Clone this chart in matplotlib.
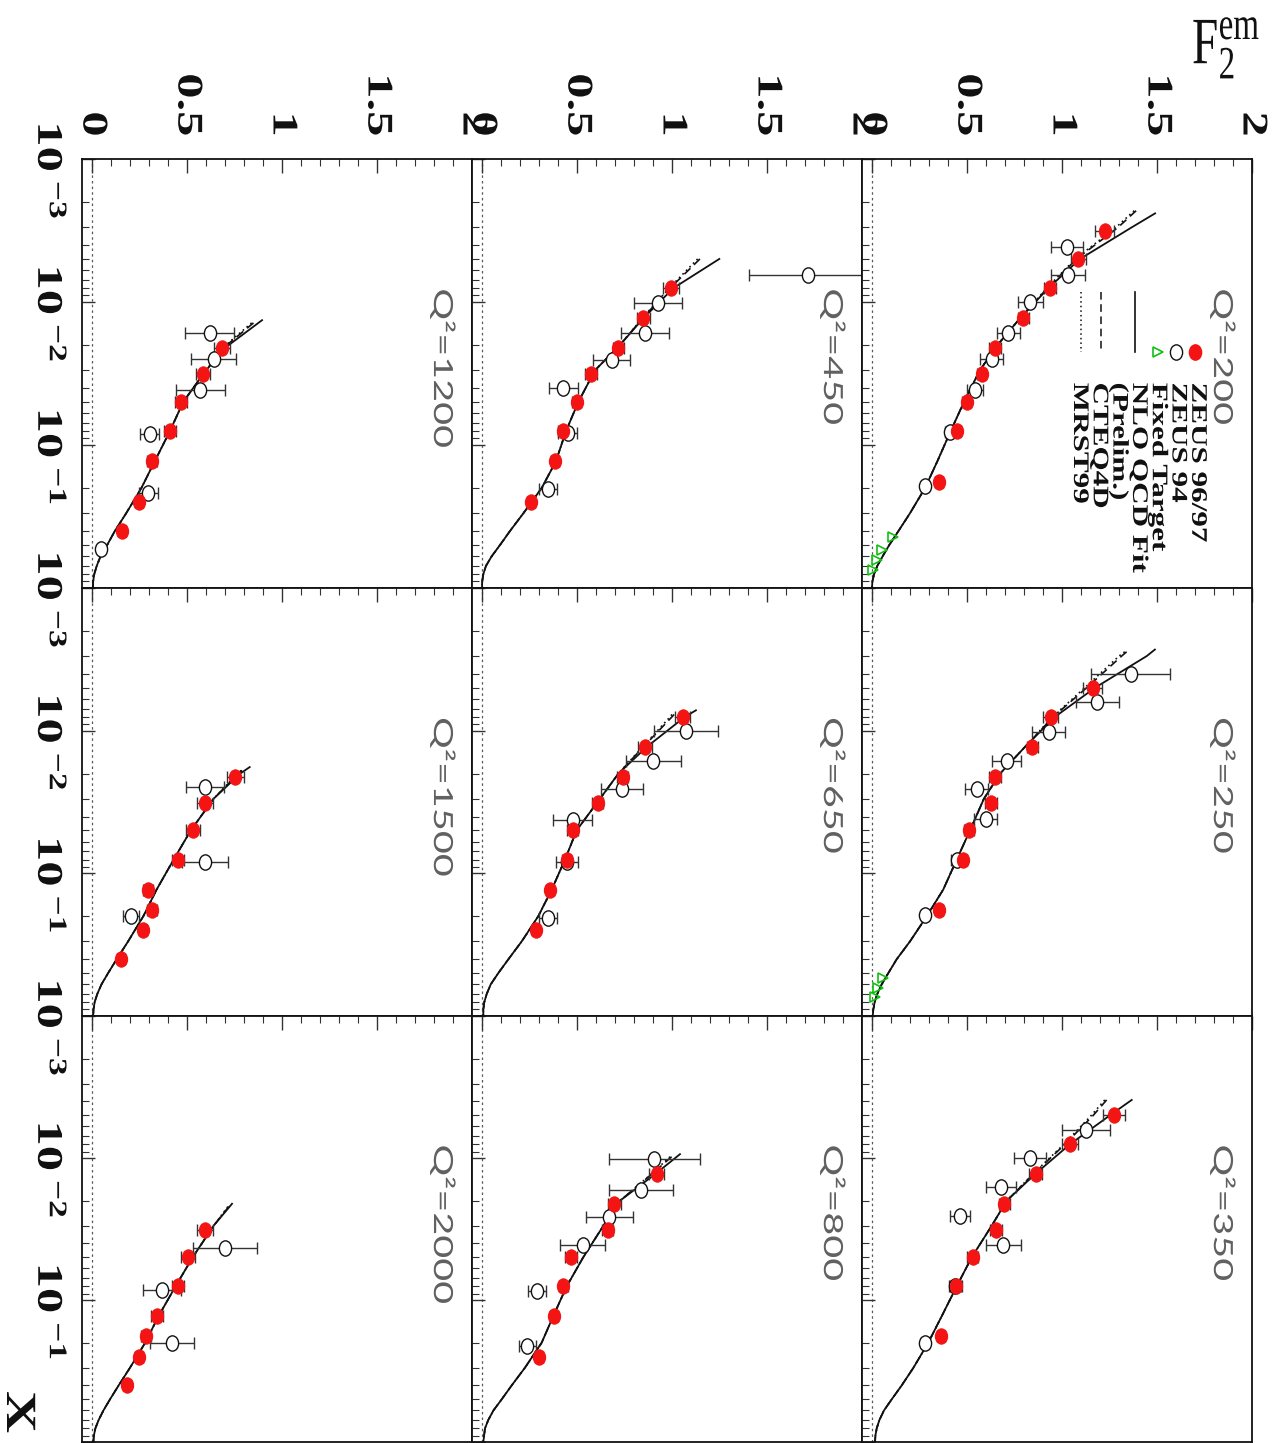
import matplotlib
matplotlib.use("Agg")
import matplotlib.pyplot as plt
from matplotlib.path import Path
from matplotlib.patheffects import AbstractPathEffect
from matplotlib.transforms import Affine2D, blended_transform_factory, offset_copy
from matplotlib.ticker import MultipleLocator, LogLocator, NullFormatter

plt.rcParams.update({
    "mathtext.fontset": "custom",
    "mathtext.rm": "Liberation Serif",
    "mathtext.it": "Liberation Serif:italic",
    "mathtext.bf": "Liberation Serif:bold",
})

# ------------------------------------------------------------------ data
# Q^2 grid (GeV^2), rows of the original page layout
Q2_GRID = [[200, 250, 350], [450, 650, 800], [1200, 1500, 2000]]

# ZEUS 96/97 (x, F2, error)
x9697_200 = [0.0032, 0.005, 0.008, 0.013, 0.021, 0.032, 0.05, 0.08, 0.18]
f9697_200 = [1.226, 1.086, 0.937, 0.796, 0.647, 0.577, 0.498, 0.446, 0.353]
e9697_200 = [0.05, 0.04, 0.03, 0.03, 0.03, 0.025, 0.025, 0.02, 0.02]
x9697_250 = [0.005, 0.008, 0.013, 0.021, 0.032, 0.05, 0.08, 0.18]
f9697_250 = [1.161, 0.940, 0.844, 0.647, 0.626, 0.511, 0.477, 0.354]
e9697_250 = [0.05, 0.04, 0.03, 0.03, 0.03, 0.025, 0.025, 0.02]
x9697_350 = [0.005, 0.008, 0.013, 0.021, 0.032, 0.05, 0.08, 0.18]
f9697_350 = [1.274, 1.042, 0.861, 0.696, 0.653, 0.530, 0.442, 0.363]
e9697_350 = [0.06, 0.04, 0.035, 0.03, 0.03, 0.03, 0.03, 0.02]
x9697_450 = [0.008, 0.013, 0.021, 0.032, 0.05, 0.08, 0.13, 0.25]
f9697_450 = [0.995, 0.849, 0.718, 0.574, 0.498, 0.425, 0.384, 0.258]
e9697_450 = [0.04, 0.035, 0.03, 0.03, 0.025, 0.025, 0.02, 0.02]
x9697_650 = [0.008, 0.013, 0.021, 0.032, 0.05, 0.08, 0.13, 0.25]
f9697_650 = [1.056, 0.858, 0.740, 0.609, 0.477, 0.446, 0.358, 0.282]
e9697_650 = [0.04, 0.035, 0.03, 0.03, 0.03, 0.025, 0.02, 0.02]
x9697_800 = [0.013, 0.021, 0.032, 0.05, 0.08, 0.13, 0.25]
f9697_800 = [0.919, 0.696, 0.661, 0.468, 0.428, 0.379, 0.300]
e9697_800 = [0.04, 0.035, 0.03, 0.03, 0.025, 0.02, 0.02]
x9697_1200 = [0.021, 0.032, 0.05, 0.08, 0.13, 0.25, 0.4]
f9697_1200 = [0.684, 0.584, 0.468, 0.410, 0.316, 0.247, 0.158]
e9697_1200 = [0.04, 0.035, 0.03, 0.03, 0.025, 0.02, 0.02]
x9697_1500 = [0.021, 0.032, 0.05, 0.08, 0.13, 0.18, 0.25, 0.4]
f9697_1500 = [0.753, 0.595, 0.532, 0.453, 0.295, 0.316, 0.268, 0.153]
e9697_1500 = [0.045, 0.04, 0.035, 0.03, 0.025, 0.025, 0.02, 0.02]
x9697_2000 = [0.032, 0.05, 0.08, 0.13, 0.18, 0.25, 0.4]
f9697_2000 = [0.595, 0.505, 0.453, 0.342, 0.284, 0.247, 0.184]
e9697_2000 = [0.04, 0.035, 0.03, 0.03, 0.025, 0.02, 0.02]

# ZEUS 94 (x, F2, error)
x94_200 = [0.0041, 0.0065, 0.01, 0.0166, 0.025, 0.041, 0.081, 0.195]
f94_200 = [1.025, 1.033, 0.832, 0.718, 0.630, 0.542, 0.410, 0.279]
e94_200 = [0.083, 0.09, 0.066, 0.061, 0.061, 0.044, 0.025, 0.02]
x94_250 = [0.004, 0.0063, 0.0102, 0.0162, 0.0255, 0.0414, 0.08, 0.196]
f94_250 = [1.361, 1.186, 0.930, 0.709, 0.551, 0.598, 0.446, 0.279]
e94_250 = [0.21, 0.112, 0.088, 0.075, 0.059, 0.059, 0.03, 0.02]
x94_350 = [0.0063, 0.01, 0.0159, 0.0256, 0.041, 0.08, 0.2]
f94_350 = [1.126, 0.832, 0.677, 0.463, 0.691, 0.437, 0.279]
e94_350 = [0.127, 0.085, 0.079, 0.054, 0.092, 0.03, 0.02]
x94_450 = [0.0065, 0.0102, 0.0166, 0.0255, 0.040, 0.083, 0.204]
f94_450 = [1.718, 0.925, 0.858, 0.682, 0.428, 0.451, 0.346]
e94_450 = [0.315, 0.127, 0.127, 0.096, 0.075, 0.05, 0.048]
x94_650 = [0.01, 0.0162, 0.0258, 0.042, 0.083, 0.206]
f94_650 = [1.074, 0.902, 0.735, 0.477, 0.446, 0.349]
e94_650 = [0.167, 0.143, 0.11, 0.104, 0.057, 0.048]
x94_800 = [0.0102, 0.0168, 0.026, 0.041, 0.087, 0.21]
f94_800 = [0.907, 0.835, 0.670, 0.530, 0.288, 0.239]
e94_800 = [0.241, 0.168, 0.123, 0.117, 0.048, 0.046]
x94_1200 = [0.0166, 0.025, 0.041, 0.084, 0.215, 0.53]
f94_1200 = [0.620, 0.640, 0.570, 0.305, 0.295, 0.047]
e94_1200 = [0.13, 0.12, 0.13, 0.05, 0.05, 0.01]
x94_1500 = [0.025, 0.083, 0.2]
f94_1500 = [0.595, 0.595, 0.205]
e94_1500 = [0.10, 0.12, 0.04]
x94_2000 = [0.043, 0.085, 0.2]
f94_2000 = [0.700, 0.368, 0.420]
e94_2000 = [0.17, 0.10, 0.115]

# fixed-target points
xft_200 = [0.44, 0.54, 0.64, 0.75]
fft_200 = [0.112, 0.051, 0.025, 0.007]
xft_250 = [0.545, 0.64, 0.73]
fft_250 = [0.060, 0.033, 0.016]

# NLO QCD fit, CTEQ4D and MRST99 curves
xfit_200 = [0.0024, 0.003, 0.005, 0.008, 0.013, 0.02, 0.03, 0.05, 0.08, 0.13, 0.2, 0.3, 0.4, 0.5, 0.6, 0.7, 0.8, 0.9, 1.0]
nlo_200 = [1.49, 1.368, 1.095, 0.928, 0.779, 0.66, 0.568, 0.484, 0.414, 0.344, 0.279, 0.2, 0.139, 0.091, 0.056, 0.028, 0.011, 0.002, 0.0]
xpdf_200 = [0.0023, 0.003, 0.005, 0.008, 0.013, 0.02, 0.03, 0.05, 0.08, 0.13, 0.2, 0.3, 0.4, 0.5, 0.6, 0.7, 0.8, 0.9, 1.0]
cteq_200 = [1.39, 1.296, 1.077, 0.923, 0.779, 0.66, 0.568, 0.484, 0.414, 0.344, 0.279, 0.2, 0.139, 0.091, 0.056, 0.028, 0.011, 0.002, 0.0]
mrst_200 = [1.38, 1.285, 1.07, 0.92, 0.779, 0.66, 0.568, 0.484, 0.414, 0.344, 0.279, 0.2, 0.139, 0.091, 0.056, 0.028, 0.011, 0.002, 0.0]

xfit_250 = [0.0027, 0.003, 0.005, 0.008, 0.013, 0.02, 0.03, 0.05, 0.08, 0.13, 0.2, 0.3, 0.4, 0.5, 0.6, 0.7, 0.8, 0.9, 1.0]
nlo_250 = [1.489, 1.446, 1.174, 0.963, 0.805, 0.674, 0.589, 0.516, 0.446, 0.375, 0.288, 0.2, 0.13, 0.086, 0.051, 0.028, 0.014, 0.007, 0.004]
xpdf_250 = [0.0028, 0.003, 0.005, 0.008, 0.013, 0.02, 0.03, 0.05, 0.08, 0.13, 0.2, 0.3, 0.4, 0.5, 0.6, 0.7, 0.8, 0.9, 1.0]
cteq_250 = [1.34, 1.314, 1.13, 0.954, 0.805, 0.674, 0.589, 0.516, 0.446, 0.375, 0.288, 0.2, 0.13, 0.086, 0.051, 0.028, 0.014, 0.007, 0.004]
mrst_250 = [1.33, 1.30, 1.12, 0.95, 0.805, 0.674, 0.589, 0.516, 0.446, 0.375, 0.288, 0.2, 0.13, 0.086, 0.051, 0.028, 0.014, 0.007, 0.004]

xfit_350 = [0.0039, 0.005, 0.008, 0.013, 0.02, 0.03, 0.05, 0.08, 0.13, 0.2, 0.3, 0.4, 0.5, 0.6, 0.7, 0.8, 0.9, 1.0]
nlo_350 = [1.367, 1.253, 1.042, 0.858, 0.709, 0.63, 0.525, 0.446, 0.367, 0.296, 0.218, 0.156, 0.104, 0.063, 0.039, 0.025, 0.018, 0.016]
xpdf_350 = [0.0039, 0.005, 0.008, 0.013, 0.02, 0.03, 0.05, 0.08, 0.13, 0.2, 0.3, 0.4, 0.5, 0.6, 0.7, 0.8, 0.9, 1.0]
cteq_350 = [1.235, 1.165, 1.016, 0.849, 0.709, 0.63, 0.525, 0.446, 0.367, 0.296, 0.218, 0.156, 0.104, 0.063, 0.039, 0.025, 0.018, 0.016]
mrst_350 = [1.225, 1.155, 1.01, 0.846, 0.709, 0.63, 0.525, 0.446, 0.367, 0.296, 0.218, 0.156, 0.104, 0.063, 0.039, 0.025, 0.018, 0.016]

xfit_450 = [0.005, 0.008, 0.013, 0.02, 0.03, 0.05, 0.08, 0.13, 0.2, 0.3, 0.4, 0.5, 0.6, 0.7, 0.8, 0.9, 1.0]
nlo_450 = [1.249, 1.007, 0.849, 0.726, 0.595, 0.507, 0.442, 0.389, 0.314, 0.218, 0.147, 0.095, 0.051, 0.021, 0.007, 0.001, 0.0]
xpdf_450 = [0.005, 0.008, 0.013, 0.02, 0.03, 0.05, 0.08, 0.13, 0.2, 0.3, 0.4, 0.5, 0.6, 0.7, 0.8, 0.9, 1.0]
cteq_450 = [1.147, 0.99, 0.845, 0.726, 0.595, 0.507, 0.442, 0.389, 0.314, 0.218, 0.147, 0.095, 0.051, 0.021, 0.007, 0.001, 0.0]
mrst_450 = [1.135, 0.985, 0.843, 0.726, 0.595, 0.507, 0.442, 0.389, 0.314, 0.218, 0.147, 0.095, 0.051, 0.021, 0.007, 0.001, 0.0]

xfit_650 = [0.0072, 0.008, 0.013, 0.02, 0.03, 0.05, 0.08, 0.13, 0.2, 0.3, 0.4, 0.5, 0.6, 0.7, 0.8, 0.9, 1.0]
nlo_650 = [1.126, 1.068, 0.867, 0.718, 0.621, 0.498, 0.437, 0.367, 0.296, 0.209, 0.139, 0.086, 0.046, 0.025, 0.012, 0.007, 0.007]
xpdf_650 = [0.0077, 0.008, 0.013, 0.02, 0.03, 0.05, 0.08, 0.13, 0.2, 0.3, 0.4, 0.5, 0.6, 0.7, 0.8, 0.9, 1.0]
cteq_650 = [1.011, 1.0, 0.849, 0.718, 0.621, 0.498, 0.437, 0.367, 0.296, 0.209, 0.139, 0.086, 0.046, 0.025, 0.012, 0.007, 0.007]
mrst_650 = [1.0, 0.99, 0.845, 0.718, 0.621, 0.498, 0.437, 0.367, 0.296, 0.209, 0.139, 0.086, 0.046, 0.025, 0.012, 0.007, 0.007]

xfit_800 = [0.0094, 0.013, 0.02, 0.03, 0.05, 0.08, 0.13, 0.2, 0.3, 0.4, 0.5, 0.6, 0.7, 0.8, 0.9, 1.0]
nlo_800 = [1.042, 0.911, 0.726, 0.639, 0.533, 0.446, 0.375, 0.314, 0.226, 0.156, 0.104, 0.06, 0.033, 0.016, 0.011, 0.007]
xpdf_800 = [0.0098, 0.013, 0.02, 0.03, 0.05, 0.08, 0.13, 0.2, 0.3, 0.4, 0.5, 0.6, 0.7, 0.8, 0.9, 1.0]
cteq_800 = [0.998, 0.893, 0.726, 0.639, 0.533, 0.446, 0.375, 0.314, 0.226, 0.156, 0.104, 0.06, 0.033, 0.016, 0.011, 0.007]
mrst_800 = [0.99, 0.89, 0.726, 0.639, 0.533, 0.446, 0.375, 0.314, 0.226, 0.156, 0.104, 0.06, 0.033, 0.016, 0.011, 0.007]

xfit_1200 = [0.0134, 0.02, 0.03, 0.05, 0.08, 0.13, 0.2, 0.3, 0.4, 0.5, 0.6, 0.7, 0.8, 0.9, 1.0]
nlo_1200 = [0.895, 0.72, 0.60, 0.48, 0.41, 0.33, 0.26, 0.18, 0.12, 0.08, 0.045, 0.025, 0.012, 0.006, 0.005]
xpdf_1200 = [0.014, 0.02, 0.03, 0.05, 0.08, 0.13, 0.2, 0.3, 0.4, 0.5, 0.6, 0.7, 0.8, 0.9, 1.0]
cteq_1200 = [0.85, 0.71, 0.60, 0.48, 0.41, 0.33, 0.26, 0.18, 0.12, 0.08, 0.045, 0.025, 0.012, 0.006, 0.005]
mrst_1200 = [0.84, 0.705, 0.60, 0.48, 0.41, 0.33, 0.26, 0.18, 0.12, 0.08, 0.045, 0.025, 0.012, 0.006, 0.005]

xfit_1500 = [0.018, 0.02, 0.03, 0.05, 0.08, 0.13, 0.2, 0.3, 0.4, 0.5, 0.6, 0.7, 0.8, 0.9, 1.0]
nlo_1500 = [0.83, 0.78, 0.64, 0.52, 0.43, 0.34, 0.27, 0.19, 0.13, 0.085, 0.05, 0.028, 0.014, 0.008, 0.006]
xpdf_1500 = [0.019, 0.02, 0.03, 0.05, 0.08, 0.13, 0.2, 0.3, 0.4, 0.5, 0.6, 0.7, 0.8, 0.9, 1.0]
cteq_1500 = [0.79, 0.77, 0.64, 0.52, 0.43, 0.34, 0.27, 0.19, 0.13, 0.085, 0.05, 0.028, 0.014, 0.008, 0.006]
mrst_1500 = [0.785, 0.765, 0.64, 0.52, 0.43, 0.34, 0.27, 0.19, 0.13, 0.085, 0.05, 0.028, 0.014, 0.008, 0.006]

xfit_2000 = [0.021, 0.03, 0.05, 0.08, 0.13, 0.2, 0.3, 0.4, 0.5, 0.6, 0.7, 0.8, 0.9, 1.0]
nlo_2000 = [0.737, 0.64, 0.53, 0.44, 0.35, 0.28, 0.20, 0.14, 0.095, 0.06, 0.035, 0.018, 0.01, 0.007]
xpdf_2000 = [0.022, 0.03, 0.05, 0.08, 0.13, 0.2, 0.3, 0.4, 0.5, 0.6, 0.7, 0.8, 0.9, 1.0]
cteq_2000 = [0.72, 0.64, 0.53, 0.44, 0.35, 0.28, 0.20, 0.14, 0.095, 0.06, 0.035, 0.018, 0.01, 0.007]
mrst_2000 = [0.715, 0.64, 0.53, 0.44, 0.35, 0.28, 0.20, 0.14, 0.095, 0.06, 0.035, 0.018, 0.01, 0.007]

F2_TICKS = [0.0, 0.5, 1.0, 1.5, 2.0]
F2_TICK_LABELS = ["0", "0.5", "1", "1.5", "2"]
X_TICKS = [1e-3, 1e-2, 1e-1]
X_TICK_LABELS = [r"$\mathbf{10}^{\ \mathbf{-3}}$", r"$\mathbf{10}^{\ \mathbf{-2}}$",
                 r"$\mathbf{10}^{\ \mathbf{-1}}$"]

LEGEND_LABELS = ["ZEUS 96/97", "ZEUS 94", "Fixed Target", "NLO QCD Fit", "(Prelim.)",
                 "CTEQ4D", "MRST99"]

PANELS = {
    200: (x9697_200, f9697_200, e9697_200, x94_200, f94_200, e94_200, xft_200, fft_200,
          xfit_200, nlo_200, xpdf_200, cteq_200, mrst_200),
    250: (x9697_250, f9697_250, e9697_250, x94_250, f94_250, e94_250, xft_250, fft_250,
          xfit_250, nlo_250, xpdf_250, cteq_250, mrst_250),
    350: (x9697_350, f9697_350, e9697_350, x94_350, f94_350, e94_350, [], [],
          xfit_350, nlo_350, xpdf_350, cteq_350, mrst_350),
    450: (x9697_450, f9697_450, e9697_450, x94_450, f94_450, e94_450, [], [],
          xfit_450, nlo_450, xpdf_450, cteq_450, mrst_450),
    650: (x9697_650, f9697_650, e9697_650, x94_650, f94_650, e94_650, [], [],
          xfit_650, nlo_650, xpdf_650, cteq_650, mrst_650),
    800: (x9697_800, f9697_800, e9697_800, x94_800, f94_800, e94_800, [], [],
          xfit_800, nlo_800, xpdf_800, cteq_800, mrst_800),
    1200: (x9697_1200, f9697_1200, e9697_1200, x94_1200, f94_1200, e94_1200, [], [],
           xfit_1200, nlo_1200, xpdf_1200, cteq_1200, mrst_1200),
    1500: (x9697_1500, f9697_1500, e9697_1500, x94_1500, f94_1500, e94_1500, [], [],
           xfit_1500, nlo_1500, xpdf_1500, cteq_1500, mrst_1500),
    2000: (x9697_2000, f9697_2000, e9697_2000, x94_2000, f94_2000, e94_2000, [], [],
           xfit_2000, nlo_2000, xpdf_2000, cteq_2000, mrst_2000),
}

# ------------------------------------------------------------------ styling helpers
FIG_W, FIG_H, DPI = 1272, 1443, 100
COL_EDGES = [82, 472, 862, 1252]        # page is laid out sideways: F2 runs left -> right
ROW_EDGES = [159, 588, 1016, 1442]      # log x runs top -> bottom
F2_RANGE = (-0.0526, 2.0)
X_RANGE = (1.0, 1e-3)

RED = "#f41414"
GREEN = "#10c010"
INK = "#111111"


class Stretch(AbstractPathEffect):
    """Scale glyph outlines along display y about a fixed fraction of their ink box."""

    def __init__(self, factor=1.4, anchor=0.5):
        super().__init__()
        self._factor = factor
        self._anchor = anchor

    def draw_path(self, renderer, gc, tpath, affine, rgbFace=None):
        ext = tpath.get_extents(affine)
        y_fix = ext.y0 + self._anchor * ext.height
        tall = Affine2D().translate(0, -y_fix).scale(1.0, self._factor).translate(0, y_fix)
        renderer.draw_path(gc, tpath, affine + tall, rgbFace)


_circle = Path.unit_circle()
OVAL = Path(_circle.vertices * [1.0, 1.25], _circle.codes)

SERIF_BOLD = dict(family="Liberation Serif", weight="bold")

fig = plt.figure(figsize=(FIG_W / DPI, FIG_H / DPI), dpi=DPI)
fig.patch.set_facecolor("white")

axes = {}
for r in range(3):
    for c in range(3):
        q2 = Q2_GRID[2 - c][r]
        x0, x1 = COL_EDGES[c], COL_EDGES[c + 1]
        y0, y1 = ROW_EDGES[r], ROW_EDGES[r + 1]
        ax = fig.add_axes([x0 / FIG_W, 1 - y1 / FIG_H, (x1 - x0) / FIG_W, (y1 - y0) / FIG_H])
        axes[q2] = ax
        (xd, fd, ed, xz, fz, ez, xf, ff, xfit, nlo, xpdf, cteq, mrst) = PANELS[q2]

        ax.set_yscale("log")
        ax.set_xlim(*F2_RANGE)
        ax.set_ylim(*X_RANGE)

        ax.axvline(0.0, color="0.35", lw=0.9, ls=(0, (2, 2.5)), zorder=1)

        ax.plot(nlo, xfit, color=INK, lw=1.3, zorder=2)
        ax.plot(cteq, xpdf, color=INK, lw=1.2, ls=(0, (5, 3)), zorder=2)
        ax.plot(mrst, xpdf, color=INK, lw=1.2, ls=(0, (1, 2)), zorder=2)

        ax.errorbar(fz, xz, xerr=ez, fmt="none", ecolor="0.2", elinewidth=1.0,
                    capsize=4, capthick=1.0, zorder=3)
        ax.plot(fz, xz, ls="none", marker=OVAL, ms=11, mfc="white", mec=INK, mew=1.0, zorder=4)
        ax.errorbar(fd, xd, xerr=ed, fmt="none", ecolor="0.2", elinewidth=1.0,
                    capsize=4, capthick=1.0, zorder=3)
        ax.plot(fd, xd, ls="none", marker=OVAL, ms=11, mfc=RED, mec=RED, mew=0.8, zorder=5)
        if xf:
            ax.plot(ff, xf, ls="none", marker=">", ms=7, mfc="none", mec=GREEN, mew=1.2, zorder=4)

        # ticks: F2 along the top edge, x along the left edge, all pointing inward
        ax.xaxis.set_major_locator(MultipleLocator(0.5))
        ax.xaxis.set_minor_locator(MultipleLocator(0.1))
        ax.yaxis.set_major_locator(LogLocator(base=10))
        ax.yaxis.set_minor_locator(LogLocator(base=10, subs=range(2, 10)))
        ax.xaxis.set_major_formatter(NullFormatter())
        ax.yaxis.set_major_formatter(NullFormatter())
        ax.yaxis.set_minor_formatter(NullFormatter())
        ax.tick_params(axis="x", which="both", direction="in", top=True, bottom=False,
                       labeltop=False, labelbottom=False, color="0.2")
        ax.tick_params(axis="x", which="major", length=10, width=1.0)
        ax.tick_params(axis="x", which="minor", length=5, width=0.8)
        ax.tick_params(axis="y", which="both", direction="in", left=True, right=False,
                       labelleft=False, labelright=False, color="0.2")
        ax.tick_params(axis="y", which="major", length=9, width=1.0)
        ax.tick_params(axis="y", which="minor", length=5, width=0.8)
        for sp in ax.spines.values():
            sp.set_linewidth(1.3)
            sp.set_color(INK)

        # Q^2 tag
        ax.text(0.923, 0.697, f"Q²={q2}", transform=ax.transAxes, rotation=-90,
                ha="center", va="top", fontsize=19, family="Lato", weight="normal",
                color="0.38", path_effects=[Stretch(1.5, 1.0)])

        # F2 tick labels above the first row
        if r == 0:
            top = offset_copy(blended_transform_factory(ax.transData, ax.transAxes),
                              fig=fig, y=23, units="dots")
            for v, s in zip(F2_TICKS, F2_TICK_LABELS):
                ax.text(v, 1.0, s, transform=top, rotation=-90, ha="center", va="bottom",
                        fontsize=26, color=INK, path_effects=[Stretch(1.4, 0.0)], **SERIF_BOLD)
        # x tick labels left of the first column
        if c == 0:
            side = offset_copy(blended_transform_factory(ax.transAxes, ax.transData),
                               fig=fig, x=-17, y=-12, units="dots")
            for v, s in zip(X_TICKS, X_TICK_LABELS):
                ax.text(0.0, v, s, transform=side, rotation=-90, ha="right", va="center",
                        fontsize=26, color=INK, path_effects=[Stretch(1.4, 0.5)])

# legend inside the Q^2 = 200 panel: one sideways text block plus its sample marks
lax = axes[200]
entry_x = [0.854, 0.805, 0.759, 0.700, 0.659, 0.613, 0.562]
lax.text(0.708, 0.478, "\n".join(LEGEND_LABELS), transform=lax.transAxes, rotation=-90,
         ha="center", va="top", multialignment="left", linespacing=0.98,
         fontsize=16, color=INK, path_effects=[Stretch(1.4, 1.0)], **SERIF_BOLD)
lax.plot([entry_x[0]], [0.55], transform=lax.transAxes, ls="none", marker=OVAL, ms=11,
         mfc=RED, mec=RED)
lax.plot([entry_x[1]], [0.55], transform=lax.transAxes, ls="none", marker=OVAL, ms=11,
         mfc="white", mec=INK, mew=1.0)
lax.plot([entry_x[2]], [0.55], transform=lax.transAxes, ls="none", marker=">", ms=7,
         mfc="none", mec=GREEN, mew=1.2)
lax.plot([entry_x[3]] * 2, [0.69, 0.55], transform=lax.transAxes, color=INK, lw=1.2)
lax.plot([entry_x[5]] * 2, [0.69, 0.55], transform=lax.transAxes, color=INK, lw=1.1,
         ls=(0, (5, 3)))
lax.plot([entry_x[6]] * 2, [0.69, 0.55], transform=lax.transAxes, color=INK, lw=1.1,
         ls=(0, (1, 2)))

# axis titles
fig.text(1192 / FIG_W, 1 - 48 / FIG_H, r"$\mathrm{F}_{2}^{\mathrm{em}}$", ha="left", va="center",
         fontsize=34, color=INK, path_effects=[Stretch(1.4, 0.5)])
fig.text(17 / FIG_W, 1 - 1412 / FIG_H, "X", rotation=-90, ha="center", va="center",
         fontsize=31, color=INK, path_effects=[Stretch(1.35, 0.5)], **SERIF_BOLD)

fig.savefig("out.png", dpi=DPI, facecolor="white")
